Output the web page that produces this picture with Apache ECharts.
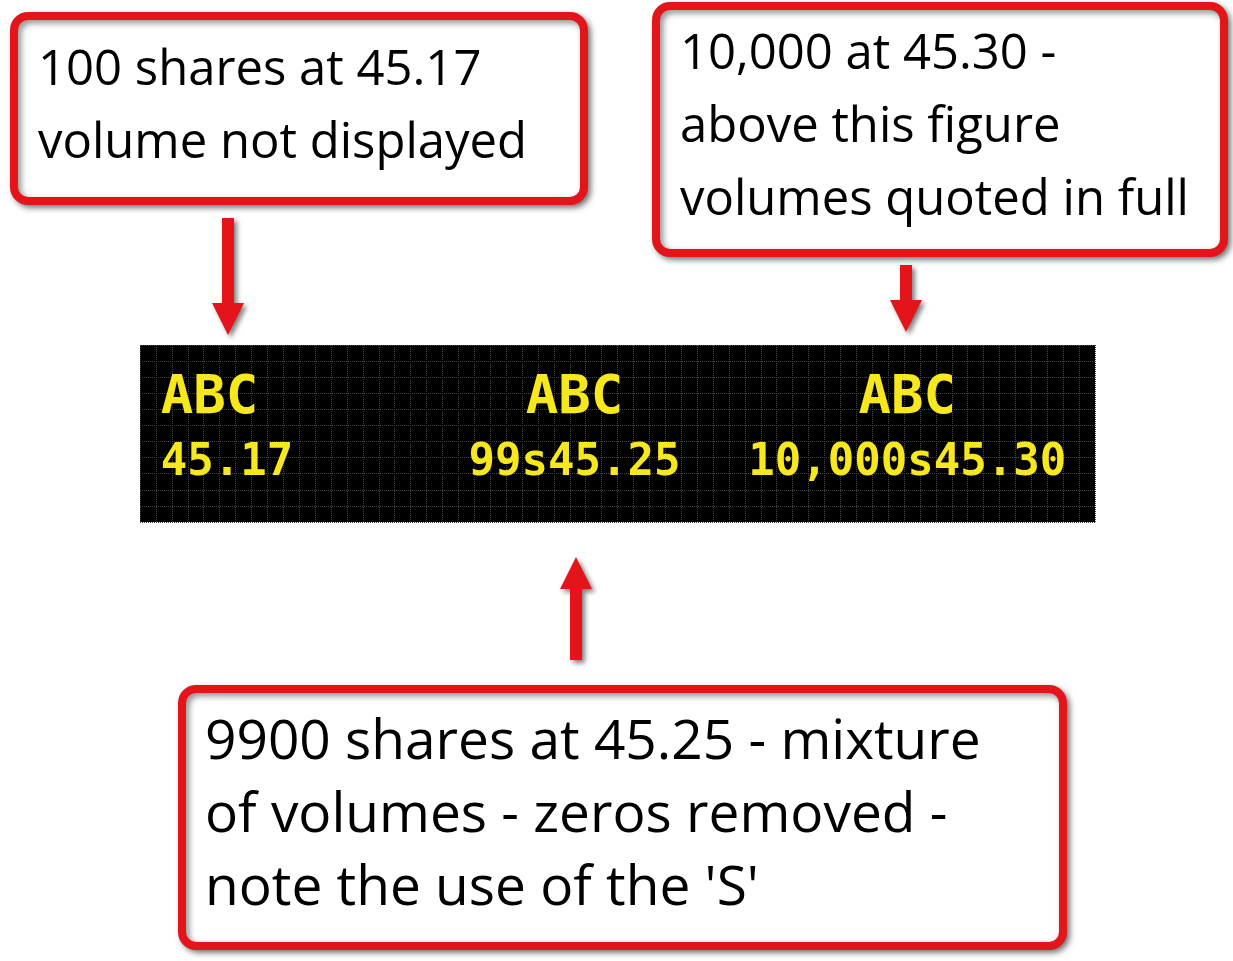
<!DOCTYPE html>
<html>
<head>
<meta charset="utf-8">
<title>Ticker volume notation</title>
<script src="https://cdn.jsdelivr.net/npm/echarts@6/dist/echarts.min.js"></script>
<style>
  html, body { margin: 0; padding: 0; background: #fff; }
  #main { width: 1233px; height: 961px; }
</style>
</head>
<body>
<div id="main"></div>
<script>
// ticker tape contents
var tickerSymbols = ['ABC', 'ABC', 'ABC'];
var tickerQuotes = ['45.17', '99s45.25', '10,000s45.30'];

// callout texts (one list of lines per box)
var noteLeft = ['100 shares at 45.17', 'volume not displayed'];
var noteRight = ['10,000 at 45.30 -', 'above this figure', 'volumes quoted in full'];
var noteBottom = ['9900 shares at 45.25 - mixture', 'of volumes - zeros removed -', "note the use of the 'S'"];

// layout of the tape (grid units, not data)
var slotX = [1.3, 27.3, 48.2];
var slotAlign = ['left', 'center', 'center'];
var rowSymbol = 7.65, rowQuote = 3.65;

var RED = '#e3151a';
var YELLOW = '#f7e81e';
var noteFont = '"Comic Sans MS", "Open Sans", sans-serif';

var chart = echarts.init(document.getElementById('main'));

// 把文字放到滚动屏上
var tapeData = [];
tickerSymbols.forEach(function (s, i) {
    tapeData.push({ value: [slotX[i], rowSymbol], name: s, label: { align: slotAlign[i], fontSize: 54 } });
    tapeData.push({ value: [slotX[i], rowQuote], name: tickerQuotes[i], label: { align: slotAlign[i], fontSize: 44 } });
});

function box(x, y, w, h) {
    return {
        type: 'rect',
        shape: { x: x, y: y, width: w, height: h, r: 14 },
        style: {
            fill: '#fff', stroke: RED, lineWidth: 8,
            shadowBlur: 6, shadowOffsetX: 3, shadowOffsetY: 3, shadowColor: 'rgba(0,0,0,0.45)'
        },
        z: 10
    };
}

function note(x, y, lines, size) {
    return {
        type: 'text',
        x: x, y: y,
        style: {
            text: lines.join('\n'),
            font: size + 'px ' + noteFont,
            fill: '#000',
            lineHeight: 73,
            verticalAlign: 'top'
        },
        z: 11
    };
}

// arrow: cx centre line, from tail to tip (down if tip > tail)
function arrow(cx, tail, tip) {
    var dir = tip > tail ? 1 : -1;
    var headLen = 32, headW = 16, shaftW = 6;
    var base = tip - dir * headLen;
    return {
        type: 'polygon',
        shape: {
            points: [
                [cx - shaftW, tail], [cx + shaftW, tail],
                [cx + shaftW, base], [cx + headW, base],
                [cx, tip],
                [cx - headW, base], [cx - shaftW, base]
            ]
        },
        style: {
            fill: RED,
            shadowBlur: 5, shadowOffsetX: 3, shadowOffsetY: 3, shadowColor: 'rgba(0,0,0,0.5)'
        },
        z: 10
    };
}

chart.setOption({
    backgroundColor: '#fff',
    animation: false,
    grid: {
        left: 140, top: 345, width: 955, height: 177,
        show: true, backgroundColor: '#000', borderWidth: 0
    },
    xAxis: {
        type: 'value', min: 0, max: 60, interval: 1,
        axisLine: { show: false }, axisTick: { show: false }, axisLabel: { show: false },
        splitLine: { lineStyle: { color: '#444', type: 'dotted', width: 1 } }
    },
    yAxis: {
        type: 'value', min: 0, max: 11, interval: 1,
        axisLine: { show: false }, axisTick: { show: false }, axisLabel: { show: false },
        splitLine: { lineStyle: { color: '#444', type: 'dotted', width: 1 } }
    },
    series: [{
        type: 'scatter',
        symbolSize: 0,
        data: tapeData,
        itemStyle: { opacity: 1 },
        label: {
            show: true,
            position: 'inside',
            formatter: '{b}',
            color: YELLOW,
            opacity: 1,
            fontFamily: '"DejaVu Sans Mono", monospace',
            fontWeight: 'bold'
        }
    }],
    graphic: [
        box(14, 16, 570, 185),
        note(38, 35, noteLeft, 49),
        box(656, 6, 568, 247),
        note(680, 19, noteRight, 49),
        box(182, 689, 881, 257),
        note(205, 707, noteBottom, 55),
        arrow(228, 218, 335),
        arrow(906, 265, 332),
        arrow(576, 660, 557)
    ]
});
</script>
</body>
</html>
